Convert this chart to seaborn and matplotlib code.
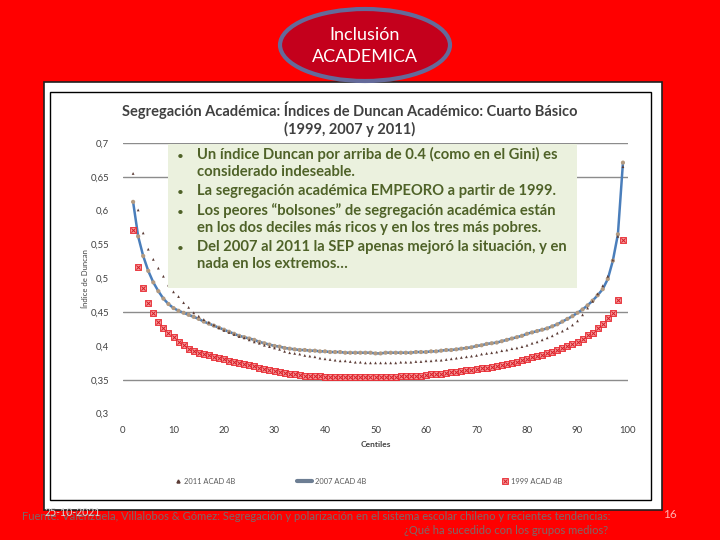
import matplotlib
matplotlib.use("Agg")
import matplotlib.pyplot as plt
from matplotlib.patches import Rectangle, Ellipse
from matplotlib.lines import Line2D
from matplotlib.legend_handler import HandlerTuple
import seaborn as sns
import pandas as pd

# ---------------- data ----------------
centiles = list(range(2, 100))

acad_2011 = [0.655, 0.601, 0.567, 0.543, 0.528, 0.515, 0.503, 0.490, 0.480, 0.473,
             0.464, 0.457, 0.449, 0.444, 0.439, 0.435, 0.431, 0.427, 0.423, 0.420,
             0.417, 0.414, 0.412, 0.409, 0.406, 0.404, 0.401, 0.399, 0.397, 0.395,
             0.392, 0.390, 0.389, 0.388, 0.386, 0.385, 0.384, 0.382, 0.381, 0.380,
             0.379, 0.378, 0.378, 0.377, 0.376, 0.376, 0.375, 0.375, 0.375, 0.375,
             0.375, 0.375, 0.375, 0.376, 0.376, 0.376, 0.377, 0.377, 0.378, 0.378,
             0.379, 0.379, 0.380, 0.381, 0.382, 0.383, 0.384, 0.385, 0.386, 0.388,
             0.389, 0.390, 0.391, 0.393, 0.394, 0.396, 0.397, 0.399, 0.401, 0.404,
             0.406, 0.409, 0.412, 0.415, 0.419, 0.422, 0.426, 0.431, 0.437, 0.446,
             0.456, 0.466, 0.477, 0.489, 0.503, 0.527, 0.562, 0.665]

acad_2007 = [0.613, 0.562, 0.533, 0.511, 0.494, 0.481, 0.470, 0.462, 0.456, 0.452,
             0.449, 0.446, 0.443, 0.440, 0.436, 0.433, 0.430, 0.427, 0.424, 0.421,
             0.418, 0.415, 0.413, 0.411, 0.409, 0.406, 0.404, 0.402, 0.400, 0.399,
             0.397, 0.396, 0.395, 0.394, 0.394, 0.393, 0.393, 0.392, 0.392, 0.391,
             0.391, 0.391, 0.390, 0.390, 0.390, 0.390, 0.390, 0.390, 0.389, 0.389,
             0.390, 0.390, 0.390, 0.390, 0.390, 0.390, 0.391, 0.391, 0.391, 0.392,
             0.392, 0.393, 0.394, 0.394, 0.395, 0.396, 0.397, 0.398, 0.400, 0.401,
             0.403, 0.404, 0.405, 0.407, 0.409, 0.411, 0.413, 0.415, 0.418, 0.420,
             0.422, 0.424, 0.426, 0.429, 0.432, 0.436, 0.440, 0.444, 0.449, 0.454,
             0.460, 0.467, 0.475, 0.484, 0.499, 0.526, 0.565, 0.671]

acad_1999 = [0.571, 0.516, 0.485, 0.464, 0.448, 0.436, 0.427, 0.419, 0.413, 0.406,
             0.401, 0.396, 0.393, 0.390, 0.388, 0.386, 0.384, 0.382, 0.380, 0.378,
             0.377, 0.375, 0.374, 0.372, 0.370, 0.368, 0.366, 0.364, 0.363, 0.361,
             0.360, 0.359, 0.358, 0.357, 0.356, 0.356, 0.355, 0.355, 0.354, 0.354,
             0.354, 0.354, 0.354, 0.354, 0.354, 0.354, 0.354, 0.354, 0.354, 0.354,
             0.354, 0.354, 0.354, 0.355, 0.355, 0.355, 0.356, 0.356, 0.357, 0.358,
             0.358, 0.359, 0.360, 0.361, 0.362, 0.363, 0.364, 0.365, 0.366, 0.367,
             0.368, 0.369, 0.371, 0.372, 0.374, 0.375, 0.377, 0.379, 0.381, 0.383,
             0.385, 0.387, 0.389, 0.391, 0.394, 0.397, 0.400, 0.403, 0.406, 0.411,
             0.416, 0.419, 0.426, 0.433, 0.441, 0.449, 0.468, 0.557]

series_labels = ["2011 ACAD 4B", "2007 ACAD 4B", "1999 ACAD 4B"]
y_ticks = [0.3, 0.35, 0.4, 0.45, 0.5, 0.55, 0.6, 0.65, 0.7]
y_tick_labels = ["0,3", "0,35", "0,4", "0,45", "0,5", "0,55", "0,6", "0,65", "0,7"]
x_ticks = [0, 10, 20, 30, 40, 50, 60, 70, 80, 90, 100]
grid_levels = [0.35, 0.45, 0.65, 0.7]

chart_title = ("Segregación Académica: Índices de Duncan Académico: Cuarto Básico\n"
               "(1999, 2007 y 2011)")
badge_text = "Inclusión\nACADEMICA"
bullets = [
    "Un índice Duncan por arriba de 0.4 (como en el Gini) es\nconsiderado indeseable.",
    "La segregación académica EMPEORO a partir de 1999.",
    "Los peores “bolsones” de segregación académica están\nen los dos deciles más ricos y en los tres más pobres.",
    "Del 2007 al 2011 la SEP apenas mejoró la situación, y en\nnada en los extremos…",
]
footer_1 = ("Fuente: Valenzuela, Villalobos & Gómez: Segregación y polarización en el "
            "sistema escolar chileno y recientes tendencias:")
footer_2 = "¿Qué ha sucedido con los grupos medios?"
date_text = "25-10-2021"
page_num = "16"

df = pd.DataFrame({"c": centiles, "a2011": acad_2011, "a2007": acad_2007, "a1999": acad_1999})

# ---------------- style ----------------
sns.set_theme(style="white")
plt.rcParams["font.family"] = ["Lato", "DejaVu Sans"]

W, H = 720, 540
fig = plt.figure(figsize=(7.2, 5.4), dpi=100, facecolor="#ff0000")


def fx(px):
    return px / W


def fy(py):
    return 1 - py / H


# white slide panel and chart border
fig.patches.append(Rectangle((fx(44), fy(510)), fx(662) - fx(44), fy(82) - fy(510),
                             transform=fig.transFigure, facecolor="white",
                             edgecolor="#202020", lw=1.2, zorder=0))
fig.patches.append(Rectangle((fx(50), fy(500)), fx(651) - fx(50), fy(92) - fy(500),
                             transform=fig.transFigure, facecolor="white",
                             edgecolor="black", lw=1.0, zorder=0.5))

# badge ellipse
fig.patches.append(Ellipse((fx(365), fy(45)), fx(170), 72 / H, transform=fig.transFigure,
                           facecolor="#c4001c", edgecolor="#646a9a", lw=3, zorder=3))
fig.text(fx(365), fy(46), badge_text, ha="center", va="center", color="white",
         fontsize=13, linespacing=1.4, zorder=4)

# axes
ax = fig.add_axes([fx(123), fy(413.6), fx(628) - fx(123), fy(143) - fy(413.6)])
ax.set_facecolor("none")
ax.set_zorder(1)

for g in grid_levels:
    ax.axhline(g, color="#8c8c8c", lw=1.0, zorder=0)

sns.lineplot(data=df, x="c", y="a2007", ax=ax, color="#4a7ebb", lw=1.8, zorder=2)
sns.scatterplot(data=df, x="c", y="a2007", ax=ax, color="#b39a80", s=9,
                edgecolor="none", zorder=3)
sns.scatterplot(data=df, x="c", y="a2011", ax=ax, color="#5b3b35", marker="^", s=4,
                edgecolor="none", zorder=4)
sns.scatterplot(data=df, x="c", y="a1999", ax=ax, color="#f59a9a", marker="s", s=19,
                edgecolor="#e8242c", linewidth=0.6, zorder=5)
sns.scatterplot(data=df, x="c", y="a1999", ax=ax, color="#d81e28", marker="x", s=9,
                linewidth=0.7, zorder=6)

ax.set_xlim(0, 100)
ax.set_ylim(0.3, 0.7)
ax.set_yticks(y_ticks)
ax.set_yticklabels(y_tick_labels)
ax.set_xticks(x_ticks)
ax.set_xticklabels([str(t) for t in x_ticks])
ax.tick_params(axis="both", length=0, labelsize=6.8, labelcolor="#404040")
ax.tick_params(axis="y", pad=10)
ax.tick_params(axis="x", pad=9)
for s in ax.spines.values():
    s.set_visible(False)
ax.set_xlabel("Centiles", fontsize=6, fontweight="bold", color="#404040", labelpad=4)
ax.set_ylabel("Índice de Duncan", fontsize=5.5, color="#404040", labelpad=1)
if ax.get_legend():
    ax.get_legend().remove()

# title
fig.text(fx(350), fy(119), chart_title, ha="center", va="center", fontsize=10.5,
         fontweight="bold", color="#404040", linespacing=1.25, zorder=3)

# green note box (drawn above the axes)
fig.patches.append(Rectangle((fx(168), fy(288)), fx(577) - fx(168), fy(144) - fy(288),
                             transform=fig.transFigure, facecolor="#ebf1de",
                             edgecolor="none", zorder=5))
bullet_y = [156, 193, 212, 249]
for by, txt in zip(bullet_y, bullets):
    fig.text(fx(177), fy(by), "•", ha="left", va="center", fontsize=8.5,
             color="#4f6228", zorder=6)
    fig.text(fx(197), fy(by - 9), txt, ha="left", va="top", fontsize=10.6,
             fontweight="bold", color="#4f6228", linespacing=1.24, zorder=6)

# legend: one entry per slot
h2011 = Line2D([], [], ls="none", marker="^", ms=2.2, color="#5b3b35")
h2007 = Line2D([], [], color="#6d7e93", lw=3)
h1999a = Line2D([], [], ls="none", marker="s", ms=4.5, mfc="#f59a9a", mec="#e8242c", mew=0.6)
h1999b = Line2D([], [], ls="none", marker="x", ms=3, color="#d81e28", mew=0.7)
legend_specs = [
    (h2011, series_labels[0], 174, 1.0),
    (h2007, series_labels[1], 297, 2.0),
    ((h1999a, h1999b), series_labels[2], 501, 1.0),
]
for handle, lab, px, hl in legend_specs:
    lg = fig.legend([handle], [lab],
                    handler_map={tuple: HandlerTuple(ndivide=1, pad=0)},
                    loc="center left", bbox_to_anchor=(fx(px), fy(481)), frameon=False,
                    fontsize=5.4, handlelength=hl, handletextpad=0.35,
                    borderpad=0, borderaxespad=0, labelcolor="#595959")
    lg.set_zorder(6)

# footer
fig.text(fx(22), fy(517), footer_1, ha="left", va="center", fontsize=8.0,
         color="#7a6a6a", zorder=6)
fig.text(fx(608), fy(531), footer_2, ha="right", va="center", fontsize=8.0,
         color="#7a6a6a", zorder=6)
fig.text(fx(45), fy(512), date_text, ha="left", va="center", fontsize=7.6,
         color="#d8d8d8", zorder=7)
fig.text(fx(670), fy(515), page_num, ha="center", va="center", fontsize=8.5,
         color="#ffb0b0", zorder=6)

fig.savefig("out.png", dpi=100, facecolor=fig.get_facecolor())
